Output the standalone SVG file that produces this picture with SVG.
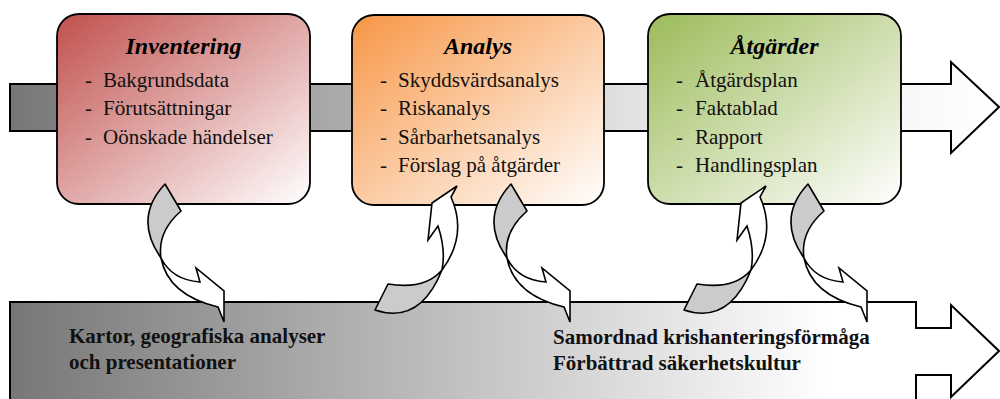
<svg xmlns="http://www.w3.org/2000/svg" xmlns:xlink="http://www.w3.org/1999/xlink" width="1000" height="399" viewBox="0 0 1000 399">
<style>
.bar{stroke:#000;stroke-width:2;stroke-linejoin:miter}
.box{stroke:#000;stroke-width:1.8}
.title{font-family:"Liberation Serif","Times New Roman",serif;font-size:24px;font-weight:bold;font-style:italic;fill:#000;text-anchor:middle}
.item{font-family:"Liberation Serif","Times New Roman",serif;font-size:21px;fill:#111}
.bold{font-family:"Liberation Serif","Times New Roman",serif;font-size:21px;font-weight:bold;fill:#111}
.back{fill:#cbcbcb;stroke:#000;stroke-width:1.6;stroke-linejoin:round}
.front{fill:#fff;stroke:#000;stroke-width:1.6;stroke-linejoin:miter}
</style>
<defs>
<linearGradient id="gTop" gradientUnits="userSpaceOnUse" x1="10" y1="0" x2="1000" y2="0">
<stop offset="0" stop-color="#777"/><stop offset="0.35" stop-color="#adadad"/><stop offset="0.65" stop-color="#e6e6e6"/><stop offset="1" stop-color="#fff"/>
</linearGradient>
<linearGradient id="gBot" gradientUnits="userSpaceOnUse" x1="10" y1="0" x2="830" y2="0">
<stop offset="0" stop-color="#777"/><stop offset="1" stop-color="#fff"/>
</linearGradient>
<linearGradient id="gRed" x1="0" y1="0" x2="1" y2="1">
<stop offset="0" stop-color="#c0504d"/><stop offset="1" stop-color="#fff"/>
</linearGradient>
<linearGradient id="gOrange" x1="0" y1="0" x2="1" y2="1">
<stop offset="0" stop-color="#f79646"/><stop offset="1" stop-color="#fff"/>
</linearGradient>
<linearGradient id="gGreen" x1="0" y1="0" x2="1" y2="1">
<stop offset="0" stop-color="#9bbb59"/><stop offset="1" stop-color="#fff"/>
</linearGradient>
<g id="arrowDown">
<path class="back" d="M165,184 L181,211 Q157,232 161,258 Q133,218 165,184 Z"/>
<path class="front" d="M161,258 Q168,295 218,307 L224,322 L224,291 L196,268 L200,282 Q172,280 161,258 Z"/>
</g>
<g id="arrowUp">
<path class="back" d="M388,284 Q425,290 442,270 Q420,325 375,310 Z"/>
<path class="front" d="M442,270 Q468,235 451,197 L457,186 L432,203 L428,240 L438,226 Q446,250 442,270 Z"/>
</g>
</defs>

<g id="flow-top">
<path class="bar" fill="url(#gTop)" d="M10,84 L951,84 L951,62 L999,107 L951,153 L951,131 L10,131 Z"/>
</g>
<g id="flow-bottom">
<path class="bar" fill="url(#gBot)" d="M10,302 L916,302 L916,328 L951,328 L951,305 L999,351 L951,397 L951,375 L916,375 L916,410 L10,410 Z"/>
<text class="bold" x="69" y="343">Kartor, geografiska analyser</text>
<text class="bold" x="69" y="369">och presentationer</text>
<text class="bold" x="553" y="344">Samordnad krishanteringsförmåga</text>
<text class="bold" x="553" y="370">Förbättrad säkerhetskultur</text>
</g>

<g id="inventering">
<rect class="box" x="57" y="14" width="253" height="190" rx="22" fill="url(#gRed)"/>
<text class="title" x="183.5" y="54">Inventering</text>
<text class="item" x="85" y="86.5">-</text><text class="item" x="103" y="86.5">Bakgrundsdata</text>
<text class="item" x="85" y="115">-</text><text class="item" x="103" y="115">Förutsättningar</text>
<text class="item" x="85" y="143.5">-</text><text class="item" x="103" y="143.5">Oönskade händelser</text>
</g>

<g id="analys">
<rect class="box" x="352" y="15" width="252" height="190" rx="22" fill="url(#gOrange)"/>
<text class="title" x="478" y="54">Analys</text>
<text class="item" x="380" y="86.5">-</text><text class="item" x="398" y="86.5">Skyddsvärdsanalys</text>
<text class="item" x="380" y="115">-</text><text class="item" x="398" y="115">Riskanalys</text>
<text class="item" x="380" y="143.5">-</text><text class="item" x="398" y="143.5">Sårbarhetsanalys</text>
<text class="item" x="380" y="172">-</text><text class="item" x="398" y="172">Förslag på åtgärder</text>
</g>

<g id="atgarder">
<rect class="box" x="648" y="14" width="253" height="190" rx="22" fill="url(#gGreen)"/>
<text class="title" x="774.5" y="54">Åtgärder</text>
<text class="item" x="676" y="86.5">-</text><text class="item" x="695" y="86.5">Åtgärdsplan</text>
<text class="item" x="676" y="115">-</text><text class="item" x="695" y="115">Faktablad</text>
<text class="item" x="676" y="143.5">-</text><text class="item" x="695" y="143.5">Rapport</text>
<text class="item" x="676" y="172">-</text><text class="item" x="695" y="172">Handlingsplan</text>
</g>

<g id="connectors">
<use xlink:href="#arrowDown" href="#arrowDown"/>
<use xlink:href="#arrowUp" href="#arrowUp"/>
<use xlink:href="#arrowDown" href="#arrowDown" transform="translate(346,0)"/>
<use xlink:href="#arrowUp" href="#arrowUp" transform="translate(309,0)"/>
<use xlink:href="#arrowDown" href="#arrowDown" transform="translate(643,0)"/>
</g>
</svg>
